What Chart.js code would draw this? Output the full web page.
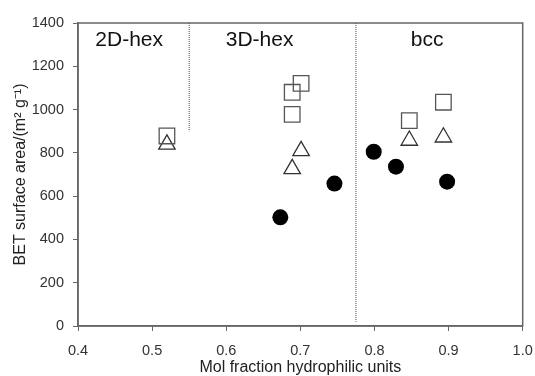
<!DOCTYPE html>
<html lang="en">
<head>
  <meta charset="UTF-8">
  <title>BET surface area vs mol fraction</title>
  <script src="https://cdn.jsdelivr.net/npm/chart.js"></script>
  <style>
    html, body { margin: 0; padding: 0; background: #fff; }
    #wrap { width: 535px; height: 376px; }
  </style>
</head>
<body>
  <div id="wrap"><canvas id="chart" width="535" height="376"></canvas></div>
  <script>
    // data
    var squareX = [0.52, 0.689, 0.701, 0.689, 0.847, 0.893];
    var squareY = [878, 1080, 1121, 978, 949, 1034];
    var triangleX = [0.52, 0.701, 0.689, 0.847, 0.893];
    var triangleY = [839, 809, 726, 857, 872];
    var circleX = [0.673, 0.746, 0.799, 0.829, 0.898];
    var circleY = [502, 658, 805, 736, 667];

    // phase boundaries and region labels
    var boundaryX = [0.55, 0.775];
    var boundaryBottom = [900, 20];
    var phaseNames = ['2D-hex', '3D-hex', 'bcc'];
    var phaseLabelX = [0.469, 0.645, 0.871];
    var phaseLabelY = 1322;

    function pts(xs, ys) {
      return xs.map(function(x, i) { return { x: x, y: ys[i] }; });
    }

    var datasets = [
      {
        label: 'squares', data: pts(squareX, squareY),
        pointStyle: 'rect', pointRadius: 11, pointHoverRadius: 11,
        backgroundColor: 'rgba(255,255,255,0)', borderColor: '#555', borderWidth: 1.3
      },
      {
        label: 'triangles', data: pts(triangleX, triangleY),
        pointStyle: 'triangle', pointRadius: 9.5, pointHoverRadius: 9.5,
        backgroundColor: 'rgba(255,255,255,0)', borderColor: '#333', borderWidth: 1.3
      },
      {
        label: 'circles', data: pts(circleX, circleY),
        pointStyle: 'circle', pointRadius: 8, pointHoverRadius: 8,
        backgroundColor: '#000', borderColor: '#000', borderWidth: 0
      }
    ];
    boundaryX.forEach(function(x, i) {
      datasets.push({
        type: 'line', label: 'boundary' + i,
        data: [{ x: x, y: 1400 }, { x: x, y: boundaryBottom[i] }],
        borderColor: '#444', borderWidth: 1, borderDash: [1, 1],
        pointRadius: 0, fill: false
      });
    });

    var framePlugin = {
      id: 'frame',
      afterDatasetsDraw: function(chart) {
        var c = chart.ctx, a = chart.chartArea;
        var xs = chart.scales.x, ys = chart.scales.y;
        c.save();
        c.strokeStyle = '#666';
        c.lineWidth = 1.5;
        c.strokeRect(a.left, a.top, a.right - a.left, a.bottom - a.top);
        c.fillStyle = '#111';
        c.font = '21px "Liberation Sans", Arial, sans-serif';
        c.textAlign = 'center';
        c.textBaseline = 'middle';
        phaseNames.forEach(function(n, i) {
          c.fillText(n, xs.getPixelForValue(phaseLabelX[i]), ys.getPixelForValue(phaseLabelY));
        });
        c.restore();
      }
    };

    var tickFont = { family: '"Liberation Sans", Arial, sans-serif', size: 14.5 };
    var titleFont = { family: '"Liberation Sans", Arial, sans-serif', size: 16, lineHeight: 1 };

    new Chart(document.getElementById('chart').getContext('2d'), {
      type: 'scatter',
      data: { datasets: datasets },
      options: {
        responsive: false,
        animation: false,
        events: [],
        layout: { padding: { top: 23, right: 12, left: 0, bottom: 0 } },
        plugins: { legend: { display: false }, tooltip: { enabled: false } },
        scales: {
          x: {
            type: 'linear', min: 0.4, max: 1.0,
            ticks: {
              stepSize: 0.1, color: '#333', font: tickFont, padding: 11,
              callback: function(v) { return v.toFixed(1); }
            },
            grid: { drawOnChartArea: false, drawTicks: true, tickLength: 5, color: '#666' },
            border: { color: '#666', width: 1.5 },
            title: { display: true, text: 'Mol fraction hydrophilic units', color: '#222', font: titleFont, padding: { top: 0, bottom: 0 } },
            afterFit: function(s) { s.height = 50; s.paddingRight = 0; s.paddingLeft = 0; }
          },
          y: {
            type: 'linear', min: 0, max: 1400,
            ticks: {
              stepSize: 200, color: '#333', font: tickFont, padding: 9,
              callback: function(v) { return String(v); }
            },
            grid: { drawOnChartArea: false, drawTicks: true, tickLength: 5, color: '#666' },
            border: { color: '#666', width: 1.5 },
            title: { display: true, text: 'BET surface area/(m² g⁻¹)', color: '#222', font: titleFont, padding: { top: 13, bottom: 0 } },
            afterFit: function(s) { s.width = 78; s.paddingTop = 0; s.paddingBottom = 0; }
          }
        }
      },
      plugins: [framePlugin]
    });
  </script>
</body>
</html>
